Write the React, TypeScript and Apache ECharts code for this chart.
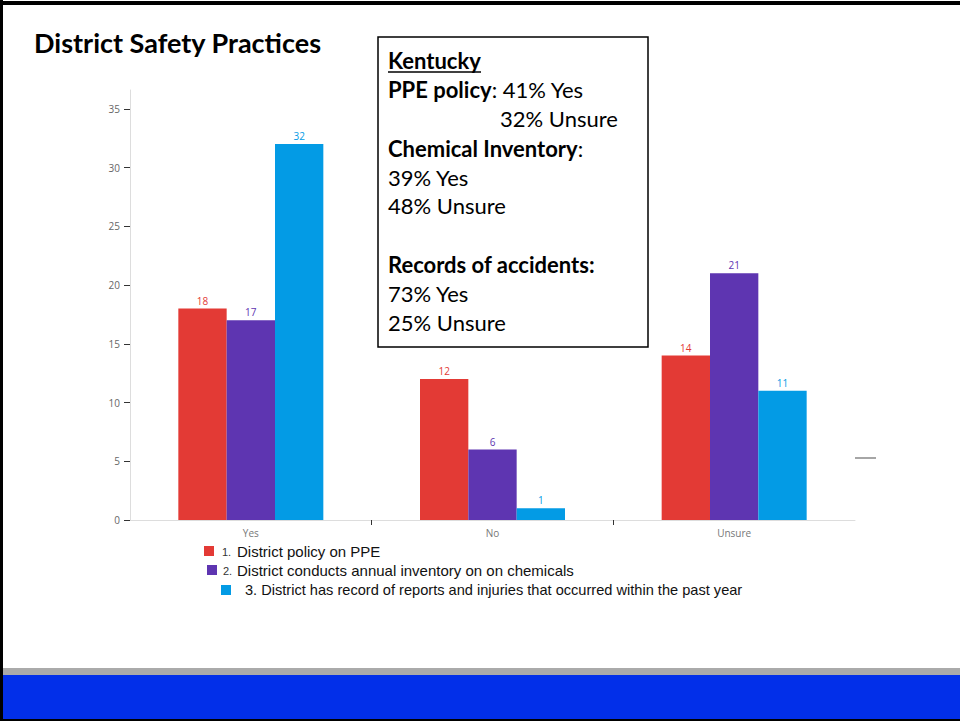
import React, { useEffect, useRef } from "react";
import * as echarts from "echarts";

const categories = ["Yes", "No", "Unsure"];
const seriesNames = [
  "District policy on PPE",
  "District conducts annual inventory on on chemicals",
  "District has record of reports and injuries that occurred within the past year",
];
const ppeValues = [18, 12, 14];
const inventoryValues = [17, 6, 21];
const recordValues = [32, 1, 11];
const yTicks = [0, 5, 10, 15, 20, 25, 30, 35];
const colors = ["#E33A35", "#5E35B1", "#039BE5"];

const boxTitle = "Kentucky";
const boxLines = [
  "{b|PPE policy}: 41% Yes",
  "32% Unsure",
  "{b|Chemical Inventory}:",
  "39% Yes",
  "48% Unsure",
  "",
  "{b|Records of accidents:}",
  "73% Yes",
  "25% Unsure",
];

export default function App() {
  const ref = useRef<HTMLDivElement>(null);
  useEffect(() => {
    if (!ref.current) return;
    const chart = echarts.init(ref.current, null, { renderer: "svg" });
    const valueSets = [ppeValues, inventoryValues, recordValues];
    const series = valueSets.map((vals, i) => ({
      name: seriesNames[i],
      type: "bar",
      xAxisIndex: 0,
      yAxisIndex: 0,
      data: vals,
      barGap: "0%",
      barCategoryGap: "40%",
      itemStyle: { color: colors[i] },
      label: {
        show: true,
        position: "top",
        distance: 3,
        color: colors[i],
        fontSize: 10,
        fontFamily: "Open Sans",
      },
    }));

    const legendX = [[204, 222, 237], [207, 223, 237], [221, -1, 245]];
    const legendY = [551, 570, 590];
    const legendFont = [15, 15, 14.6];
    const legendGraphics: any[] = [];
    seriesNames.forEach((name, i) => {
      const [mx, nx, tx] = legendX[i];
      legendGraphics.push({
        type: "rect",
        shape: { x: mx, y: legendY[i] - 5, width: 10, height: 10 },
        style: { fill: colors[i] },
      });
      if (nx > 0) {
        legendGraphics.push({
          type: "text",
          x: nx,
          y: legendY[i] + 1,
          style: {
            text: `${i + 1}.`,
            fontSize: 11,
            fontFamily: "Liberation Sans",
            fill: "#333",
            verticalAlign: "middle",
          },
        });
      }
      legendGraphics.push({
        type: "text",
        x: tx,
        y: legendY[i],
        style: {
          text: nx > 0 ? name : `${i + 1}. ${name}`,
          fontSize: legendFont[i],
          fontFamily: "Liberation Sans",
          fill: "#111",
          verticalAlign: "middle",
        },
      });
    });

    const boxGraphics: any[] = [
      {
        type: "rect",
        shape: { x: 378, y: 37, width: 270, height: 310 },
        style: { fill: "#fff", stroke: "#000", lineWidth: 1.5 },
        z: 10,
      },
      {
        type: "text",
        x: 388,
        y: 60,
        z: 11,
        style: {
          text: boxTitle,
          fontSize: 22,
          fontWeight: "bold",
          fontFamily: "Lato",
          fill: "#000",
          verticalAlign: "middle",
        },
      },
      {
        type: "line",
        z: 11,
        shape: { x1: 388, y1: 72, x2: 481, y2: 72 },
        style: { stroke: "#000", lineWidth: 1.5 },
      },
    ];
    const lineYs = [89, 118, 148, 177, 205, 234, 264, 293, 322];
    const lineXs = [388, 500, 388, 388, 388, 388, 388, 388, 388];
    boxLines.forEach((t, i) => {
      if (!t) return;
      boxGraphics.push({
        type: "text",
        x: lineXs[i],
        y: lineYs[i],
        z: 11,
        style: {
          text: t,
          fontSize: 22,
          fontFamily: "Lato",
          fill: "#000",
          verticalAlign: "middle",
          rich: {
            b: { fontSize: 22, fontWeight: "bold", fontFamily: "Lato", fill: "#000" },
          },
        },
      });
    });

    chart.setOption({
      animation: false,
      backgroundColor: "#fff",
      grid: { left: 130, right: 105, top: 90, bottom: 201 },
      xAxis: [
        {
          type: "category",
          data: categories,
          axisLine: { lineStyle: { color: "#dddddd", width: 1 } },
          axisTick: { show: false },
          axisLabel: { color: "#777", fontSize: 10, fontFamily: "Open Sans", margin: 8 },
          splitLine: { show: false },
        },
        {
          type: "value",
          min: 0,
          max: 3,
          position: "bottom",
          axisLine: { show: false },
          axisTick: {
            show: true,
            customValues: [1, 2],
            length: 5,
            lineStyle: { color: "#333", width: 1 },
          },
          axisLabel: { show: false },
          splitLine: { show: false },
        },
      ],
      yAxis: {
        type: "value",
        min: 0,
        max: 36.6,
        axisLine: { show: true, lineStyle: { color: "#dddddd", width: 1 } },
        axisTick: {
          show: true,
          customValues: yTicks,
          length: 6,
          lineStyle: { color: "#333", width: 1 },
        },
        axisLabel: {
          customValues: yTicks,
          color: "#666",
          fontSize: 10,
          fontFamily: "Open Sans",
          margin: 10,
        },
        splitLine: { show: false },
      },
      series,
      graphic: [
        {
          type: "text",
          x: 34,
          y: 42,
          style: {
            text: "District Safety Practices",
            fontSize: 27,
            fontWeight: "bold",
            fontFamily: "Lato",
            fill: "#000",
            verticalAlign: "middle",
          },
        },
        {
          type: "line",
          shape: { x1: 855, y1: 458, x2: 876, y2: 458 },
          style: { stroke: "#888", lineWidth: 1.5 },
        },
        ...boxGraphics,
        ...legendGraphics,
        { type: "rect", shape: { x: 0, y: 668, width: 960, height: 7 }, style: { fill: "#AAAAAA" } },
        { type: "rect", shape: { x: 0, y: 675, width: 960, height: 44 }, style: { fill: "#022FE9" } },
        { type: "rect", shape: { x: 0, y: 719, width: 960, height: 2 }, style: { fill: "#000" } },
        { type: "rect", shape: { x: 0, y: 1, width: 960, height: 4 }, style: { fill: "#000" } },
        { type: "rect", shape: { x: 0, y: 0, width: 3, height: 721 }, style: { fill: "#000" } },
      ],
    });
    return () => chart.dispose();
  }, []);
  return (
    <div
      ref={ref}
      style={{ position: "fixed", left: 0, top: 0, width: 960, height: 721 }}
    />
  );
}
